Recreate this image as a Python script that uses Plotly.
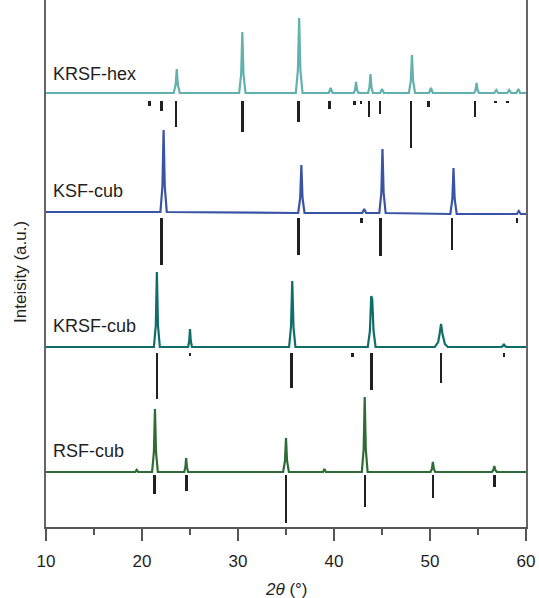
import plotly.graph_objects as go

# ---- measured XRD patterns (2theta in degrees, intensity in a.u. incl. vertical offset) ----
hex_x = [10, 23.3, 23.5, 23.62, 23.74, 23.94, 30.12, 30.33, 30.45, 30.57, 30.78,
         36.02, 36.24, 36.37, 36.5, 36.72, 39.45, 39.65, 39.85, 42.05, 42.2, 42.3, 42.4, 42.55,
         43.55, 43.7, 43.8, 43.9, 44.05, 44.8, 45.0, 45.2, 47.8, 48.0, 48.12, 48.24, 48.44,
         49.9, 50.1, 50.3, 54.6, 54.75, 54.85, 54.95, 55.1, 56.7, 56.9, 57.1, 58.05, 58.25, 58.45,
         59.0, 59.2, 59.4, 60]
hex_y = [434, 434, 442, 458, 442, 434, 434, 453, 495, 453, 434,
         434, 457, 509, 457, 434, 434, 439, 434, 434, 437, 445, 437, 434,
         434, 440, 453, 440, 434, 434, 438, 434, 434, 446, 472, 446, 434,
         434, 439, 434, 434, 437, 444, 437, 434, 434, 437, 434, 434, 437, 434,
         434, 438, 434, 434]

ksf_x = [10, 21.92, 22.13, 22.25, 22.37, 22.58, 36.27, 36.48, 36.6, 36.72, 36.93,
         42.95, 43.15, 43.35, 44.72, 44.93, 45.05, 45.17, 45.38, 52.12, 52.33, 52.45, 52.57, 52.78,
         59.05, 59.25, 59.45, 60]
ksf_y = [315, 315, 341, 397, 341, 315, 314, 329, 362, 329, 314,
         314, 318, 314, 314, 334, 378, 334, 314, 313, 328, 359, 328, 313,
         313, 316, 313, 313]

krsf_x = [10, 21.24, 21.44, 21.55, 21.66, 21.86, 24.8, 24.92, 25.0, 25.08, 25.2,
          35.32, 35.52, 35.65, 35.78, 35.98, 43.52, 43.74, 43.88, 43.98, 44.12, 44.33,
          50.5, 50.85, 51.0, 51.15, 51.3, 51.55, 51.85, 57.45, 57.6, 57.7, 57.8, 57.95, 60]
krsf_y = [180, 180, 202, 255, 202, 180, 180, 186, 198, 186, 180,
          180, 200, 246, 200, 180, 180, 196, 231, 228, 196, 180,
          180, 185, 193, 203, 193, 183, 180, 180, 181, 183, 181, 180, 180]

rsf_x = [10, 19.3, 19.45, 19.6, 21.05, 21.24, 21.35, 21.46, 21.65, 24.4, 24.52, 24.6, 24.68, 24.8,
         34.7, 34.89, 35.0, 35.11, 35.3, 38.85, 39.0, 39.15, 42.9, 43.09, 43.2, 43.31, 43.5,
         50.05, 50.2, 50.3, 50.4, 50.55, 56.45, 56.6, 56.7, 56.8, 56.95, 60]
rsf_y = [55, 55, 57, 55, 55, 75, 118, 75, 55, 55, 60, 69, 60, 55,
         55, 66, 89, 66, 55, 55, 58, 55, 55, 78, 130, 78, 55,
         55, 58, 65, 58, 55, 55, 57, 61, 57, 55, 55]

# ---- reference (standard) reflections: positions and relative lengths ----
hex_ref_pos = [20.75, 22.05, 23.55, 30.45, 36.33, 39.5, 42.15, 42.8, 43.65, 44.8, 48.02, 49.85, 54.7, 56.85, 58.1]
hex_ref_len = [5, 10, 26, 31, 21, 8, 4, 3, 16, 13, 47, 6, 16, 2, 2]
hex_ref_top = 426

ksf_ref_pos = [22.05, 36.3, 42.85, 44.86, 52.3, 59.05]
ksf_ref_len = [47, 37, 5, 38, 32, 5]
ksf_ref_top = 309

krsf_ref_pos = [21.55, 25.0, 35.6, 41.95, 43.9, 51.15, 57.7]
krsf_ref_len = [46, 3, 35, 4, 37, 30, 4]
krsf_ref_top = 174

rsf_ref_pos = [21.32, 24.62, 35.0, 43.23, 50.31, 56.7]
rsf_ref_len = [19, 16, 48, 32, 23, 12]
rsf_ref_top = 52

names = ["KRSF-hex", "KSF-cub", "KRSF-cub", "RSF-cub"]
label_y = [453, 336, 201, 76]
colors = ["#63b1ae", "#3a54a5", "#0f6e68", "#2f6b35"]

x_ticks = [10, 20, 30, 40, 50, 60]

patterns = [(hex_x, hex_y), (ksf_x, ksf_y), (krsf_x, krsf_y), (rsf_x, rsf_y)]
refs = [(hex_ref_pos, hex_ref_len, hex_ref_top), (ksf_ref_pos, ksf_ref_len, ksf_ref_top),
        (krsf_ref_pos, krsf_ref_len, krsf_ref_top), (rsf_ref_pos, rsf_ref_len, rsf_ref_top)]

FONT = "Liberation Sans, Arial, sans-serif"
TXT = "#231f20"

fig = go.Figure()
for (px, py), col, nm in zip(patterns, colors, names):
    assert len(px) == len(py)
    fig.add_trace(go.Scatter(x=px, y=py, mode="lines", name=nm,
                             line=dict(color=col, width=2.2), showlegend=False,
                             hoverinfo="skip"))
for pos, ln, top in refs:
    fig.add_trace(go.Bar(x=pos, y=ln, base=[top - v for v in ln], width=0.28,
                         marker=dict(color="#231f20", line=dict(width=0)),
                         showlegend=False, hoverinfo="skip"))

for nm, ly in zip(names, label_y):
    fig.add_annotation(x=10.55, y=ly, text=nm, showarrow=False, xanchor="left", yanchor="middle",
                       font=dict(family=FONT, size=18, color=TXT))

fig.add_annotation(xref="paper", yref="paper", x=0, y=0.484, xshift=-25, text="Inteisity (a.u.)",
                   textangle=-90, showarrow=False, xanchor="center", yanchor="middle",
                   font=dict(family=FONT, size=17, color=TXT))
fig.add_annotation(xref="paper", yref="paper", x=0.5, y=0, yshift=-62, text="<i>2θ</i> (°)",
                   showarrow=False, xanchor="center", yanchor="middle",
                   font=dict(family=FONT, size=17, color=TXT))

fig.update_layout(
    width=539, height=598,
    margin=dict(l=46, r=13, t=0, b=71),
    paper_bgcolor="white", plot_bgcolor="white",
    barmode="overlay", bargap=0,
    xaxis=dict(range=[10, 60], tickvals=x_ticks, ticks="outside", ticklen=12, tickwidth=1.5,
               tickcolor="#555555", showline=True, linecolor="#555555", linewidth=1.5,
               showgrid=False, zeroline=False, ticklabelstandoff=6,
               tickfont=dict(family=FONT, size=17, color=TXT),
               minor=dict(dtick=5, tick0=10, ticks="outside", ticklen=6, tickwidth=1.5,
                          tickcolor="#555555", showgrid=False)),
    yaxis=dict(range=[0, 527], showticklabels=False, ticks="", showline=True, mirror=True,
               linecolor="#666666", linewidth=1.5, showgrid=False, zeroline=False),
)

fig.write_html("out.html", config={"displayModeBar": False},
               post_script="document.body.style.margin='0';document.body.style.overflow='hidden';")
